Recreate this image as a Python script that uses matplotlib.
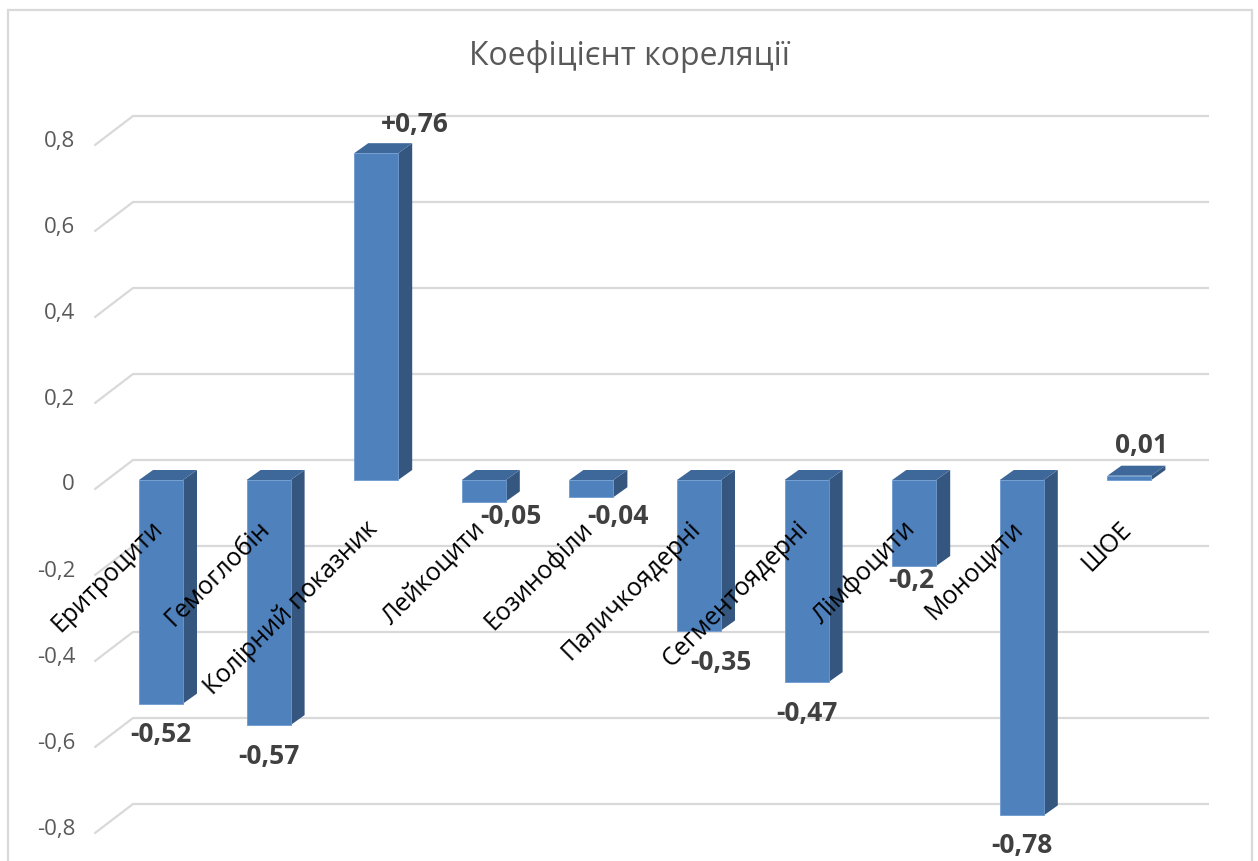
import numpy as np
import matplotlib.pyplot as plt
from matplotlib.patches import Polygon, Rectangle

plt.rcParams['font.family'] = ['Open Sans', 'DejaVu Sans']

categories = ['Еритроцити', 'Гемоглобін', 'Колірний показник', 'Лейкоцити',
              'Еозинофіли', 'Паличкоядерні', 'Сегментоядерні', 'Лімфоцити',
              'Моноцити', 'ШОЕ']
values = [-0.52, -0.57, 0.76, -0.05, -0.04, -0.35, -0.47, -0.2, -0.78, 0.01]
value_labels = ['-0,52', '-0,57', '+0,76', '-0,05', '-0,04',
                '-0,35', '-0,47', '-0,2', '-0,78', '0,01']
ticks = [-0.8, -0.6, -0.4, -0.2, 0.0, 0.2, 0.4, 0.6, 0.8]
tick_labels = ['-0,8', '-0,6', '-0,4', '-0,2', '0', '0,2', '0,4', '0,6', '0,8']

# data-label shifts (category units, value units) from the bar end
label_shift = [(0, -0.072), (0, -0.072), (0.36, 0.067), (0.25, -0.034),
               (0.25, -0.044), (0.2, -0.075), (0, -0.072), (-0.03, -0.033),
               (0, -0.071), (0.11, 0.071)]

W, H = 1258, 861
PX_CAT = 107.6   # pixels per category step
PX_VAL = 430.0   # pixels per 1.0 of value
X0_PX, Y0_PX = 161, 480   # first bar centre / zero level on the bar front

def dxp(px):
    return px / PX_CAT

def dvp(px):
    return px / PX_VAL

fig = plt.figure(figsize=(W / 100, H / 100), dpi=100)
ax = fig.add_axes([0, 0, 1, 1])
ax.set_xlim(-X0_PX / PX_CAT, (W - X0_PX) / PX_CAT)
ax.set_ylim((Y0_PX - H) / PX_VAL, Y0_PX / PX_VAL)
ax.axis('off')

# outer chart border
fig.patches.append(Rectangle((8 / W, -0.05), (1252 - 8) / W, 1.05 - 10 / H,
                             transform=fig.transFigure, fill=False,
                             edgecolor='#d9d9d9', linewidth=1.6))

grid_c = '#d9d9d9'
back_x0, back_x1 = dxp(133 - X0_PX), dxp(1209 - X0_PX)
side_x0 = dxp(95 - X0_PX)
for t, lab in zip(ticks, tick_labels):
    yb = t + dvp(20)
    yf = t - dvp(9)
    ax.plot([back_x0, back_x1], [yb, yb], color=grid_c, lw=1.6, zorder=1,
            solid_capstyle='butt')
    ax.plot([side_x0, back_x0], [yf, yb], color=grid_c, lw=1.6, zorder=1,
            solid_capstyle='round')
    ax.text(dxp(75 - X0_PX), t - dvp(5), lab, ha='right', va='center',
            fontsize=16, color='#595959')

# 3D-looking columns
bw = dxp(44)
ddx, ddv = dxp(14), dvp(10)
front_c, top_c, side_c = '#4f81bd', '#3d6899', '#34567f'
for i, v in enumerate(values):
    lo, hi = min(0, v), max(0, v)
    xl, xr = i - bw / 2, i + bw / 2
    ax.add_patch(Polygon([(xr, lo), (xr + ddx, lo + ddv), (xr + ddx, hi + ddv), (xr, hi)],
                         closed=True, facecolor=side_c, edgecolor='none', zorder=3))
    ax.add_patch(Polygon([(xl, hi), (xr, hi), (xr + ddx, hi + ddv), (xl + ddx, hi + ddv)],
                         closed=True, facecolor=top_c, edgecolor='none', zorder=3))
    ax.add_patch(Rectangle((xl, lo), bw, hi - lo, facecolor=front_c,
                           edgecolor='#6f9ad0', linewidth=0.6, zorder=4))

# value labels
for i, (v, lab) in enumerate(zip(values, value_labels)):
    sx, sv = label_shift[i]
    ax.text(i + sx, v + sv, lab, ha='center', va='center', fontsize=19,
            fontweight='bold', color='#404040', zorder=6)

# category labels along the zero line
for i, name in enumerate(categories):
    ax.text(i - dxp(2), -0.105, name, rotation=45, rotation_mode='anchor',
            ha='right', va='center', fontsize=18, color='black', zorder=5)

fig.text(0.5, 1 - 65 / H, 'Коефіцієнт кореляції', ha='center', va='baseline',
         fontsize=23, color='#595959')

fig.savefig('out.png', dpi=100)
